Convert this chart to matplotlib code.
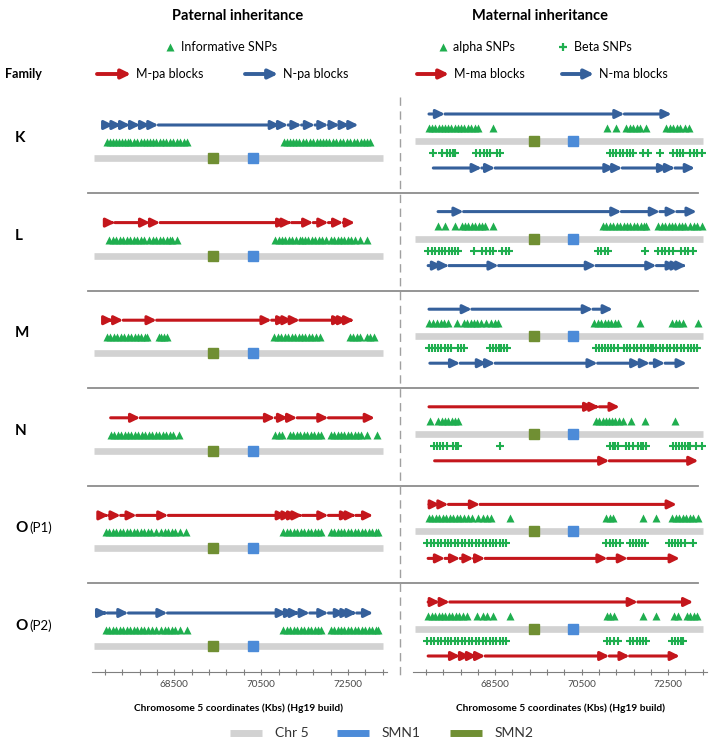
import matplotlib
matplotlib.use('Agg')
import matplotlib.pyplot as plt

plt.rcParams['font.family'] = ['Lato', 'DejaVu Sans']

W, H = 711, 745

# ---- data (Chr 5 positions in kb, hg19) ----
families = ['K', 'L', 'M', 'N', 'O', 'O']
family_tags = ['', '', '', '', '(P1)', '(P2)']

chr_span = (66650, 73300)
smn1 = 70300
smn2 = 69400

# paternal blocks: 'M' = M-pa (red), 'N' = N-pa (blue); list = block boundaries
pa_kind = ['N', 'M', 'M', 'M', 'M', 'N']
pa_blocks = [
    [66980, 67090, 67280, 67480, 67710, 67940, 68130, 70930, 71120, 71430, 71740, 72050, 72310, 72540, 72740],
    [67030, 67130, 67940, 68170, 71100, 71200, 71700, 72050, 72390, 72660],
    [66950, 67090, 67320, 68090, 70740, 71100, 71220, 71390, 72390, 72500, 72640],
    [67030, 67710, 70820, 71120, 71330, 72050, 73120],
    [66880, 66980, 67260, 67630, 68360, 71090, 71220, 71350, 71450, 72050, 72570, 72680, 73080],
    [66880, 66950, 67440, 68340, 71090, 71280, 71390, 71620, 72050, 72430, 72580, 72700, 73080],
]
pa_snps = [
    [66950, 67020, 67090, 67160, 67230, 67300, 67370, 67440, 67480, 67560, 67640, 67720, 67800, 67870, 67940,
     68000, 68080, 68160, 68240, 68310, 68390, 68470, 68550, 68630, 68720, 68800,
     71020, 71100, 71170, 71240, 71300, 71380, 71460, 71540, 71620, 71700, 71780, 71860, 71930, 72000,
     72070, 72150, 72230, 72310, 72390, 72470, 72550, 72630, 72710, 72790, 72870, 72940, 73000],
    [67000, 67080, 67160, 67240, 67320, 67400, 67480, 67560, 67640, 67720, 67800,
     67920, 68000, 68080, 68160, 68240, 68320, 68400, 68440, 68570,
     70820, 70900, 70980, 71060, 71140, 71220, 71300, 71390, 71430, 71510, 71590, 71670, 71750, 71830, 71910, 72000,
     72100, 72180, 72260, 72340, 72420, 72500, 72580, 72660, 72770, 72940],
    [66940, 67020, 67100, 67180, 67260, 67340, 67420, 67500, 67580, 67660, 67740, 67820, 67860,
     68150, 68200, 68260, 68330,
     70800, 70880, 70960, 71040, 71120, 71200, 71280, 71360, 71440, 71520, 71600, 71680, 71760, 71850,
     72550, 72620, 72700, 72770, 72930, 73010, 73100],
    [67030, 67110, 67190, 67270, 67350, 67430, 67510, 67590, 67670, 67750, 67830, 67910, 67990, 68070,
     68150, 68230, 68310, 68390, 68470, 68610,
     70820, 70900, 70970, 71160, 71240, 71320, 71400, 71480, 71560, 71640, 71720, 71800, 71890,
     72100, 72180, 72260, 72340, 72420, 72500, 72580, 72660, 72740, 72810, 72940, 73160],
    [66920, 67000, 67080, 67160, 67240, 67320, 67400, 67480, 67560, 67640, 67720, 67800, 67880, 67960, 68070,
     68200, 68280, 68360, 68440, 68520, 68620, 68770,
     71010, 71090, 71170, 71250, 71330, 71410, 71490, 71570, 71650, 71730, 71810, 71890,
     72100, 72180, 72260, 72340, 72420, 72500, 72580, 72660, 72740, 72820, 72900, 72980, 73060, 73140, 73200],
    [66920, 67000, 67080, 67160, 67240, 67320, 67400, 67480, 67560, 67640, 67720, 67800, 67900, 67990, 68080,
     68200, 68280, 68360, 68440, 68520, 68620, 68790,
     71010, 71090, 71170, 71250, 71330, 71410, 71490, 71570, 71650, 71740, 71820, 71890,
     72100, 72180, 72260, 72340, 72420, 72500, 72580, 72660, 72740, 72820, 72900, 72980, 73060, 73140, 73200],
]

# maternal blocks (two haplotype tracks per family)
ma_kind = ['N', 'N', 'N', 'M', 'M', 'M']
ma_top_blocks = [
    [66970, 67340, 71490, 72580],
    [67180, 67770, 71420, 72310, 72700, 73160],
    [66970, 67960, 70760, 71220],
    [66970, 70790, 70910, 71380],
    [66970, 67220, 67420, 68150, 72700],
    [66950, 67220, 67450, 71800, 73080],
]
ma_bot_blocks = [
    [67070, 68190, 68500, 71260, 71440, 72500, 72660, 73120],
    [66950, 67270, 67430, 68580, 70830, 72230, 72700, 72810, 72920],
    [66990, 67690, 68310, 68500, 70870, 71880, 72080, 72430, 72930],
    [67100, 71140, 73200],
    [66950, 67340, 67690, 68000, 68270, 71100, 71570, 72770],
    [66950, 67690, 67920, 68080, 68270, 71140, 71610, 72770],
]
alpha_snps = [
    [66970, 67030, 67100, 67200, 67260, 67330, 67400, 67480, 67560, 67630, 67710, 67790, 67870, 67950, 68030,
     68110, 68460, 71080, 71300, 71530, 71610, 71690, 71770, 71850, 71980,
     72460, 72540, 72620, 72700, 72780, 72890, 72990],
    [67180, 67340, 67560, 67730, 67800, 67880, 67960, 68040, 68120, 68200, 68270, 68460,
     70990, 71070, 71150, 71230, 71310, 71390, 71470, 71550, 71630, 71710, 71790, 71870, 71950, 72000,
     72270, 72350, 72430, 72510, 72590, 72670, 72750, 72830, 72890, 73010, 73090, 73170, 73280],
    [66970, 67060, 67150, 67240, 67320, 67400, 67610, 67770, 67850, 67930, 68010, 68090, 68170, 68280,
     68410, 68490, 68560, 70790, 70870, 70950, 71030, 71110, 71190, 71270, 71340, 71860,
     72600, 72680, 72760, 72850, 73200],
    [66990, 67180, 67260, 67340, 67420, 67500, 67580, 67630,
     70830, 70910, 70990, 71070, 71140, 71210, 71280, 71370, 71450, 71650, 71960, 72660],
    [66970, 67050, 67130, 67210, 67290, 67370, 67450, 67530, 67610, 67690, 67770, 67880, 67970, 68110,
     68230, 68320, 68410, 68850, 71070, 71150, 71220, 71920, 72220,
     72600, 72680, 72760, 72840, 72920, 73000, 73080, 73200],
    [66950, 67030, 67110, 67190, 67270, 67350, 67430, 67510, 67590, 67670, 67750, 67840, 68080, 68230,
     68310, 68440, 68850, 71080, 71160, 71240, 71920, 72220, 72640, 72740, 72930, 73010, 73090, 73180],
]
beta_snps = [
    [67070, 67260, 67380, 67460, 67520, 67570, 68050, 68150, 68250, 68310, 68390, 68540, 68620,
     71160, 71230, 71300, 71380, 71460, 71540, 71620, 71690, 71920, 72040, 72310,
     72620, 72700, 72780, 72850, 73010, 73090, 73170, 73280],
    [66950, 67030, 67110, 67190, 67270, 67350, 67430, 67510, 67580, 67650, 68020, 68190, 68290, 68380,
     68460, 68660, 68740, 68810, 70870, 70950, 71030, 71100, 71960,
     72270, 72350, 72430, 72510, 72620, 72810, 72890, 72970, 73080],
    [66970, 67040, 67110, 67180, 67250, 67330, 67410, 67490, 67650, 67710, 67770,
     68390, 68450, 68520, 68580, 68640, 68710, 68770,
     70830, 70900, 70970, 71040, 71110, 71180, 71260, 71340, 71470, 71550, 71630, 71710, 71790, 71870,
     71950, 72030, 72110, 72150, 72230, 72310, 72390, 72470, 72550, 72630, 72710, 72790, 72870, 72950,
     73030, 73100, 73160],
    [67090, 67160, 67230, 67300, 67380, 67530, 67590, 67650, 68620,
     71160, 71220, 71280, 71340, 71530, 71600, 71690, 71800, 71870, 71930, 72000,
     72620, 72690, 72760, 72820, 72890, 72950, 73010, 73150, 73280],
    [66930, 67010, 67090, 67170, 67250, 67330, 67410, 67490, 67570, 67650, 67730, 67810, 67890, 67970,
     68050, 68130, 68210, 68290, 68370, 68450, 68530, 68610, 68690, 68740,
     71070, 71150, 71230, 71300, 71380, 71610, 71680, 71750, 71820, 71890, 71960,
     72530, 72600, 72670, 72740, 72810, 72890, 73070],
    [66930, 67010, 67090, 67170, 67250, 67330, 67410, 67490, 67570, 67650, 67730, 67810, 67890, 67970,
     68050, 68130, 68210, 68290, 68370, 68450, 68530, 68610, 68690, 68740,
     71080, 71160, 71240, 71340, 71610, 71690, 71770, 71850, 71920, 72000,
     72580, 72650, 72720, 72790, 72850],
]

tick_kb = [66900 + 400 * k for k in range(17)]
tick_labels = ['68500', '70500', '72500']

RED = '#C4161C'
BLUE = '#35609B'
GREEN = '#1FAE4F'
CHR = '#D2D2D2'
SMN1_C = '#4C8BD8'
SMN2_C = '#708F33'
SEP = '#8C8C8C'
kind_color = {'M': RED, 'N': BLUE}

ARROW = '-|>,head_length=0.45,head_width=0.22'


def draw_blocks(ax, y, bounds, color):
    for a, b in zip(bounds[:-1], bounds[1:]):
        ax.annotate('', xy=(b, y), xytext=(a, y),
                    arrowprops=dict(arrowstyle=ARROW, color=color, lw=2.2,
                                    mutation_scale=11.5, shrinkA=0, shrinkB=0))


def draw_chr(ax, y):
    ax.plot(chr_span, [y, y], color=CHR, lw=4.8, solid_capstyle='butt', zorder=1)
    ax.plot([smn2], [y], 's', ms=7.5, color=SMN2_C, zorder=2)
    ax.plot([smn1], [y], 's', ms=7.5, color=SMN1_C, zorder=2)


fig = plt.figure(figsize=(W / 100, H / 100), dpi=100)

# overlay in pixel units for headings, separators and legends
ov = fig.add_axes([0, 0, 1, 1])
ov.set_xlim(0, W)
ov.set_ylim(H, 0)
ov.axis('off')


def panel(x0, x1):
    ax = fig.add_axes([x0 / W, 1 - 672 / H, (x1 - x0) / W, (672 - 95) / H])
    ax.set_xlim(66600, 73400)
    ax.set_ylim(672, 95)
    ax.patch.set_alpha(0)
    for s in ['top', 'left', 'right']:
        ax.spines[s].set_visible(False)
    ax.spines['bottom'].set_color('#7f7f7f')
    ax.set_yticks([])
    ax.set_xticks(tick_kb)
    ax.set_xticklabels([str(t) if str(t) in tick_labels else '' for t in tick_kb])
    ax.tick_params(axis='x', direction='inout', length=4, color='#7f7f7f',
                   labelsize=7.2, labelcolor='#4a4a4a', pad=4)
    return ax


axL = panel(92, 387)
axR = panel(413, 707)

pitch = 97.6
for i in range(len(families)):
    yb = 158 + pitch * i
    # paternal
    draw_blocks(axL, yb - 33, pa_blocks[i], kind_color[pa_kind[i]])
    axL.plot(pa_snps[i], [yb - 16] * len(pa_snps[i]), '^', color=GREEN, ms=5.2, mec='none')
    draw_chr(axL, yb)
    # maternal
    yr = yb - 17
    c = kind_color[ma_kind[i]]
    draw_blocks(axR, yr - 27, ma_top_blocks[i], c)
    axR.plot(alpha_snps[i], [yr - 13] * len(alpha_snps[i]), '^', color=GREEN, ms=5.2, mec='none')
    draw_chr(axR, yr)
    axR.plot(beta_snps[i], [yr + 12] * len(beta_snps[i]), '+', color=GREEN, ms=5.5, mew=1.5)
    draw_blocks(axR, yr + 27, ma_bot_blocks[i], c)

    # family label
    ov.text(15, yb - 16, families[i], fontsize=11, fontweight='bold', va='baseline', ha='left')
    if family_tags[i]:
        ov.text(29, yb - 16, family_tags[i], fontsize=9.5, va='baseline', ha='left')
    if i < len(families) - 1:
        ov.plot([88, 698], [yb + 35, yb + 35], color=SEP, lw=1.3)

# vertical dashed divider
ov.plot([400, 400], [97, 680], color='#a0a0a0', lw=1, ls=(0, (6, 4)))

# headings
ov.text(238, 16, 'Paternal inheritance', fontsize=10.5, fontweight='bold', ha='center', va='center')
ov.text(540, 16, 'Maternal inheritance', fontsize=10.5, fontweight='bold', ha='center', va='center')
ov.text(5, 74, 'Family', fontsize=9, fontweight='bold', ha='left', va='center')

# header legends
ov.plot([170], [47], '^', color=GREEN, ms=5.5, mec='none')
ov.text(181, 47, 'Informative SNPs', fontsize=9, va='center')
ov.plot([443], [47], '^', color=GREEN, ms=5.5, mec='none')
ov.text(453, 47, 'alpha SNPs', fontsize=9, va='center')
ov.plot([563], [47], '+', color=GREEN, ms=5.5, mew=1.6)
ov.text(574, 47, 'Beta SNPs', fontsize=9, va='center')

for x0, x1, col, lab in [(97, 131, RED, 'M-pa blocks'), (245, 278, BLUE, 'N-pa blocks'),
                         (417, 449, RED, 'M-ma blocks'), (562, 594, BLUE, 'N-ma blocks')]:
    ov.annotate('', xy=(x1, 74), xytext=(x0, 74),
                arrowprops=dict(arrowstyle=ARROW, color=col, lw=2.8, mutation_scale=12,
                                shrinkA=0, shrinkB=0))
    ov.text(x1 + 5, 74, lab, fontsize=9, va='center')

# x-axis titles
for xc in (238, 560):
    ov.text(xc, 708, 'Chromosome 5 coordinates (Kbs) (Hg19 build)', fontsize=7.3,
            fontweight='bold', ha='center', va='center')

# bottom legend
for x0, col, lab in [(230, CHR, 'Chr 5'), (337, SMN1_C, 'SMN1'), (450, SMN2_C, 'SMN2')]:
    ov.plot([x0, x0 + 32], [733, 733], color=col, lw=5, solid_capstyle='butt')
    ov.text(x0 + 45, 733, lab, fontsize=10, va='center', color='#333333')

fig.savefig('out.png', dpi=100)
